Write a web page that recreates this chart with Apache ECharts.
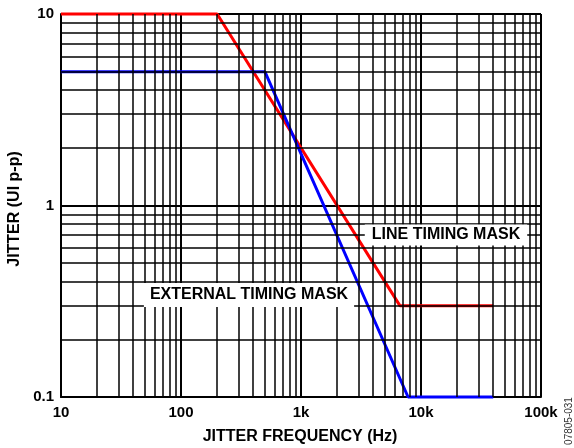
<!DOCTYPE html>
<html>
<head>
<meta charset="utf-8">
<script src="https://cdn.jsdelivr.net/npm/echarts@6/dist/echarts.min.js"></script>
<style>html,body{margin:0;padding:0;background:#fff}#c{width:574px;height:448px}</style>
</head>
<body>
<div id="c"></div>
<script>
// ---- data ----
var lineTimingMask = [[10, 10], [200, 10], [6667, 0.3], [40000, 0.3]];
var externalTimingMask = [[10, 5], [500, 5], [7800, 0.1], [40000, 0.1]];
var xTickValues = [10, 100, 1000, 10000, 100000];
var xTickLabels = ['10', '100', '1k', '10k', '100k'];
var yTickValues = [0.1, 1, 10];
var yTickLabels = ['0.1', '1', '10'];
var xMinorGrid = [20,30,40,50,60,70,80,90,200,300,400,500,600,700,800,900,2000,3000,4000,5000,6000,7000,8000,9000,20000,30000,40000,50000,60000,70000,80000,90000];
var yMinorGrid = [0.2,0.3,0.4,0.5,0.6,0.7,0.8,0.9,2,3,4,5,6,7,8,9];

var FONT = '"Liberation Sans", Arial, sans-serif';
function lookup(vals, labels, v) {
  for (var i = 0; i < vals.length; i++) {
    if (Math.abs(Math.log10(vals[i]) - Math.log10(v)) < 1e-6) return labels[i];
  }
  return '';
}
var minorLines = xMinorGrid.map(function (v) { return { xAxis: v }; })
  .concat(yMinorGrid.map(function (v) { return { yAxis: v }; }));

var chart = echarts.init(document.getElementById('c'), null, { renderer: 'canvas' });
chart.setOption({
  animation: false,
  backgroundColor: '#fff',
  grid: { left: 61, top: 14, right: 33, bottom: 51, containLabel: false },
  xAxis: {
    type: 'log', logBase: 10, min: 10, max: 100000,
    axisLine: { show: true, lineStyle: { color: '#000', width: 2 } },
    axisTick: { show: false },
    splitLine: { show: true, lineStyle: { color: '#000', width: 2 } },
    axisLabel: {
      margin: 8, color: '#000', fontFamily: FONT, fontWeight: 'bold', fontSize: 15,
      formatter: function (v) { return lookup(xTickValues, xTickLabels, v); }
    }
  },
  yAxis: {
    type: 'log', logBase: 10, min: 0.1, max: 10,
    axisLine: { show: true, lineStyle: { color: '#000', width: 2 } },
    axisTick: { show: false },
    splitLine: { show: true, lineStyle: { color: '#000', width: 2 } },
    axisLabel: {
      margin: 7, color: '#000', fontFamily: FONT, fontWeight: 'bold', fontSize: 15,
      formatter: function (v) { return lookup(yTickValues, yTickLabels, v); }
    }
  },
  series: [
    {
      type: 'line', name: 'grid', data: [], silent: true, z: 1,
      markLine: {
        silent: true, symbol: ['none', 'none'], animation: false,
        label: { show: false },
        lineStyle: { color: '#000', width: 1.5, type: 'solid' },
        emphasis: { disabled: true },
        data: minorLines
      }
    },
    {
      type: 'line', name: 'LINE TIMING MASK', data: lineTimingMask,
      symbol: 'none', z: 3, clip: false,
      lineStyle: { color: '#ff0000', width: 3 }
    },
    {
      type: 'line', name: 'EXTERNAL TIMING MASK', data: externalTimingMask,
      symbol: 'none', z: 3, clip: false,
      lineStyle: { color: '#0000ff', width: 3 }
    }
  ],
  graphic: [
    {
      type: 'text', x: 446, y: 235, z: 10,
      style: {
        text: 'LINE TIMING MASK', fill: '#000', font: 'bold 16px ' + FONT,
        align: 'center', verticalAlign: 'middle',
        backgroundColor: '#fff', padding: [3, 7, 2, 7]
      }
    },
    {
      type: 'text', x: 249, y: 295, z: 10,
      style: {
        text: 'EXTERNAL TIMING MASK', fill: '#000', font: 'bold 16px ' + FONT,
        align: 'center', verticalAlign: 'middle',
        backgroundColor: '#fff', padding: [4, 6, 4, 6]
      }
    },
    {
      type: 'text', x: 300, y: 437, z: 10,
      style: {
        text: 'JITTER FREQUENCY (Hz)', fill: '#000', font: 'bold 16px ' + FONT,
        align: 'center', verticalAlign: 'middle'
      }
    },
    {
      type: 'text', x: 15, y: 209, rotation: Math.PI / 2, z: 10,
      style: {
        text: 'JITTER (UI p-p)', fill: '#000', font: 'bold 16px ' + FONT,
        align: 'center', verticalAlign: 'middle'
      }
    },
    {
      type: 'text', x: 569, y: 421, rotation: Math.PI / 2, z: 10,
      style: {
        text: '07805-031', fill: '#333', font: '10px ' + FONT,
        align: 'center', verticalAlign: 'middle'
      }
    }
  ]
});
</script>
</body>
</html>
